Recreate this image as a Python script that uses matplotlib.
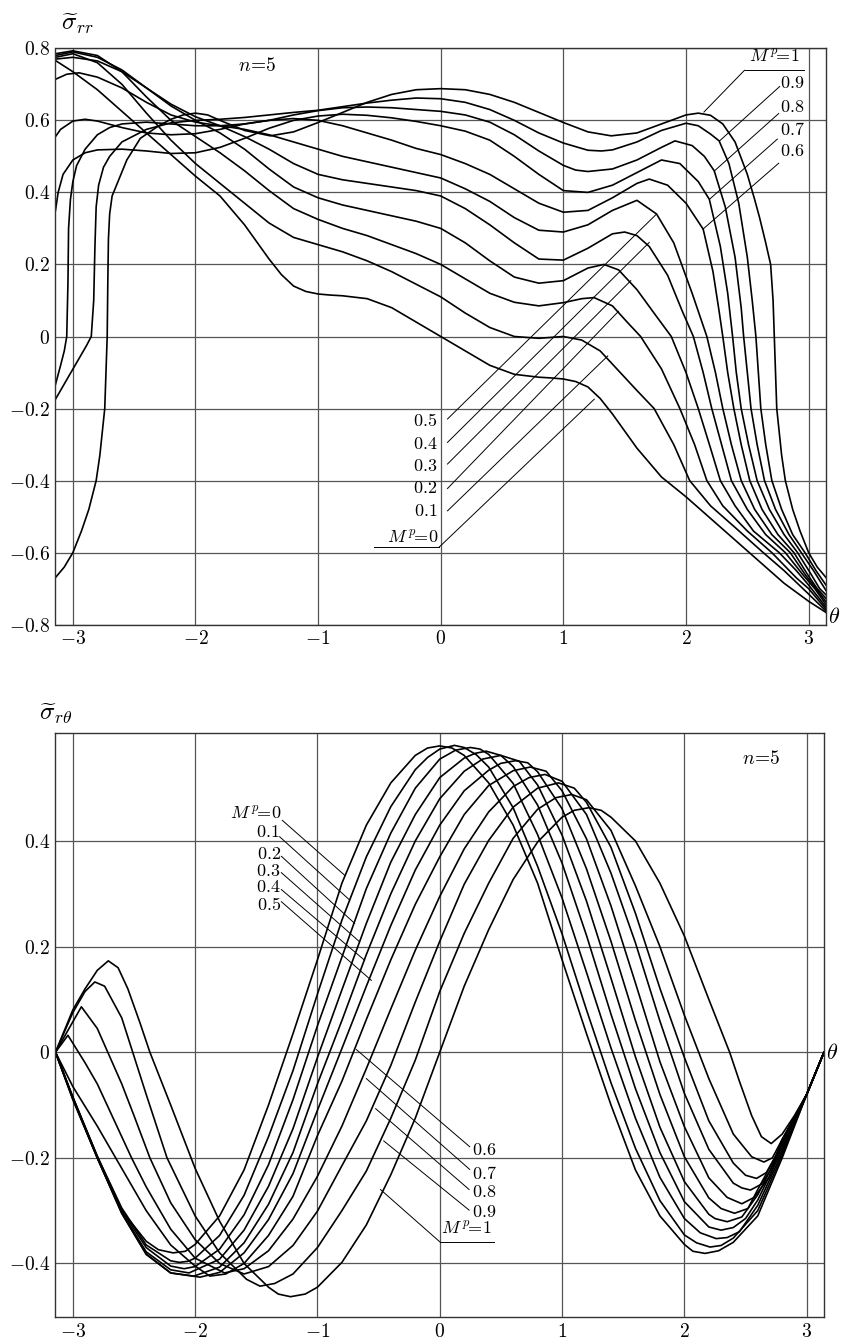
import matplotlib
matplotlib.use("Agg")
import matplotlib.pyplot as plt

plt.rcParams["mathtext.fontset"] = "cm"
plt.rcParams["font.family"] = "serif"
plt.rcParams["font.serif"] = ["cmr10", "DejaVu Serif"]
plt.rcParams["axes.unicode_minus"] = False

PI = 3.1416

# ---------------- data: sigma_rr (top), (theta, value) pairs
rr_m00 = [(-PI, .766), (-3.0, .735), (-2.8, .685), (-2.6, .625), (-2.4, .565), (-2.2, .505), (-2.0, .445),
          (-1.8, .39), (-1.6, .31), (-1.4, .215), (-1.3, .172), (-1.2, .14), (-1.1, .125), (-1.0, .118),
          (-0.9, .115), (-0.8, .113), (-0.6, .105), (-0.4, .08), (-0.2, .04), (0.0, 0.0), (0.2, -.04),
          (0.4, -.08), (0.6, -.105), (0.8, -.113), (0.9, -.115), (1.0, -.118), (1.1, -.125), (1.2, -.14),
          (1.3, -.172), (1.4, -.215), (1.6, -.31), (1.8, -.39), (2.0, -.445), (2.2, -.505), (2.4, -.565),
          (2.6, -.625), (2.8, -.685), (3.0, -.735), (PI, -.766)]
rr_m01 = [(-PI, .775), (-3.0, .785), (-2.8, .76), (-2.6, .70), (-2.4, .62), (-2.2, .545), (-2.0, .48),
          (-1.8, .425), (-1.6, .37), (-1.4, .315), (-1.2, .275), (-1.0, .255), (-0.8, .235), (-0.6, .21),
          (-0.4, .18), (-0.2, .145), (0.0, .11), (0.2, .065), (0.4, .025), (0.6, 0.0), (0.8, -.005),
          (1.0, 0.0), (1.15, -.01), (1.3, -.04), (1.45, -.095), (1.6, -.15), (1.74, -.2), (1.9, -.3),
          (2.03, -.4), (2.2, -.47), (2.4, -.53), (2.63, -.6), (2.8, -.65), (3.0, -.715), (PI, -.762)]
rr_m02 = [(-PI, .785), (-3.0, .793), (-2.8, .78), (-2.6, .735), (-2.4, .665), (-2.2, .60), (-2.0, .555),
          (-1.8, .51), (-1.6, .46), (-1.4, .405), (-1.2, .355), (-1.0, .325), (-0.8, .30), (-0.6, .28),
          (-0.4, .255), (-0.2, .23), (0.0, .20), (0.2, .16), (0.4, .12), (0.6, .095), (0.8, .085),
          (1.0, .094), (1.15, .105), (1.25, .108), (1.4, .085), (1.52, .04), (1.63, 0.0), (1.8, -.09),
          (1.95, -.2), (2.07, -.3), (2.17, -.4), (2.3, -.47), (2.5, -.54), (2.7, -.6), (2.9, -.67),
          (3.0, -.70), (PI, -.757)]
rr_m03 = [(-PI, .78), (-3.0, .79), (-2.8, .775), (-2.6, .74), (-2.4, .69), (-2.2, .64), (-2.0, .60),
          (-1.8, .565), (-1.6, .52), (-1.4, .465), (-1.2, .415), (-1.0, .385), (-0.8, .365), (-0.6, .35),
          (-0.4, .335), (-0.2, .32), (0.0, .30), (0.2, .26), (0.4, .21), (0.6, .165), (0.8, .148),
          (1.0, .155), (1.2, .19), (1.33, .2), (1.45, .185), (1.6, .13), (1.75, .06), (1.88, 0.0),
          (2.0, -.1), (2.1, -.2), (2.2, -.31), (2.28, -.4), (2.4, -.47), (2.55, -.54), (2.76, -.6),
          (2.9, -.65), (3.0, -.69), (PI, -.751)]
rr_m04 = [(-PI, .77), (-3.0, .775), (-2.8, .765), (-2.6, .735), (-2.4, .69), (-2.2, .645), (-2.0, .61),
          (-1.8, .585), (-1.6, .555), (-1.4, .52), (-1.2, .48), (-1.0, .45), (-0.8, .435), (-0.6, .425),
          (-0.4, .415), (-0.2, .405), (0.0, .39), (0.2, .355), (0.4, .31), (0.6, .26), (0.8, .215),
          (1.0, .212), (1.2, .245), (1.4, .285), (1.5, .29), (1.6, .28), (1.7, .25), (1.85, .17),
          (1.97, .07), (2.06, 0.0), (2.14, -.1), (2.21, -.2), (2.29, -.3), (2.37, -.4), (2.5, -.48),
          (2.65, -.55), (2.81, -.6), (2.95, -.66), (3.05, -.7), (PI, -.744)]
rr_m05 = [(-PI, .714), (-3.05, .728), (-2.95, .732), (-2.8, .72), (-2.6, .69), (-2.4, .65), (-2.2, .615),
          (-2.0, .595), (-1.8, .585), (-1.6, .575), (-1.4, .56), (-1.2, .54), (-1.0, .52), (-0.8, .50),
          (-0.6, .485), (-0.4, .47), (-0.2, .455), (0.0, .44), (0.2, .41), (0.4, .375), (0.6, .33),
          (0.8, .295), (1.0, .29), (1.2, .31), (1.4, .35), (1.6, .378), (1.76, .34), (1.9, .26),
          (2.05, .12), (2.17, 0.0), (2.24, -.1), (2.3, -.2), (2.37, -.3), (2.45, -.4), (2.56, -.48),
          (2.7, -.55), (2.85, -.6), (2.97, -.66), (3.06, -.7), (PI, -.736)]
rr_m06 = [(-PI, .555), (-3.1, .575), (-3.0, .598), (-2.9, .603), (-2.8, .598), (-2.6, .58), (-2.4, .565),
          (-2.2, .56), (-2.0, .563), (-1.8, .575), (-1.6, .59), (-1.4, .60), (-1.2, .605), (-1.0, .60),
          (-0.8, .585), (-0.6, .565), (-0.4, .545), (-0.2, .522), (0.0, .505), (0.2, .48), (0.4, .45),
          (0.6, .41), (0.8, .37), (1.0, .345), (1.2, .35), (1.4, .385), (1.6, .425), (1.7, .437),
          (1.85, .42), (2.0, .37), (2.14, .298), (2.22, .18), (2.27, .07), (2.3, 0.0), (2.34, -.1),
          (2.39, -.2), (2.45, -.3), (2.52, -.4), (2.62, -.48), (2.75, -.55), (2.88, -.6), (2.99, -.66),
          (3.07, -.7), (PI, -.727)]
rr_m07 = [(-PI, .35), (-3.12, .40), (-3.08, .45), (-3.0, .49), (-2.9, .51), (-2.8, .518), (-2.6, .52),
          (-2.4, .515), (-2.2, .508), (-2.0, .51), (-1.8, .525), (-1.6, .55), (-1.4, .578), (-1.2, .60),
          (-1.0, .612), (-0.8, .617), (-0.6, .614), (-0.4, .607), (-0.2, .597), (0.0, .585), (0.2, .57),
          (0.4, .545), (0.6, .50), (0.8, .45), (1.0, .405), (1.2, .40), (1.4, .42), (1.6, .455),
          (1.8, .49), (1.95, .48), (2.1, .43), (2.19, .381), (2.28, .25), (2.34, .12), (2.38, 0.0),
          (2.41, -.1), (2.45, -.2), (2.51, -.3), (2.58, -.4), (2.68, -.48), (2.8, -.55), (2.91, -.6),
          (3.02, -.66), (3.09, -.7), (PI, -.717)]
rr_m08 = [(-PI, -.133), (-3.1, -.08), (-3.07, -.04), (-3.05, 0.0), (-3.04, .15), (-3.035, .3), (-3.02, .38),
          (-3.0, .43), (-2.97, .474), (-2.9, .52), (-2.8, .56), (-2.7, .58), (-2.6, .59), (-2.4, .595),
          (-2.2, .59), (-2.0, .585), (-1.8, .585), (-1.6, .59), (-1.4, .60), (-1.2, .615), (-1.0, .627),
          (-0.8, .635), (-0.6, .637), (-0.4, .635), (-0.2, .63), (0.0, .625), (0.2, .615), (0.4, .595),
          (0.6, .56), (0.8, .515), (1.0, .475), (1.1, .462), (1.2, .458), (1.4, .465), (1.6, .49),
          (1.8, .525), (1.91, .543), (2.05, .53), (2.15, .5), (2.23, .46), (2.32, .36), (2.4, .22),
          (2.45, .08), (2.47, 0.0), (2.5, -.1), (2.53, -.2), (2.58, -.3), (2.64, -.4), (2.73, -.48),
          (2.84, -.55), (2.94, -.6), (3.04, -.65), (PI, -.705)]
rr_m09 = [(-PI, -.174), (-3.05, -.12), (-2.97, -.073), (-2.89, -.026), (-2.85, 0.0), (-2.83, .1),
          (-2.82, .25), (-2.81, .36), (-2.79, .42), (-2.75, .47), (-2.7, .50), (-2.6, .54), (-2.4, .575),
          (-2.2, .593), (-2.0, .60), (-1.8, .603), (-1.6, .608), (-1.4, .615), (-1.2, .622), (-1.0, .628),
          (-0.8, .638), (-0.6, .648), (-0.4, .656), (-0.2, .662), (0.0, .66), (0.2, .65), (0.4, .63),
          (0.6, .60), (0.8, .565), (1.0, .537), (1.2, .517), (1.31, .515), (1.4, .518), (1.6, .54),
          (1.8, .572), (2.0, .592), (2.1, .585), (2.2, .562), (2.27, .543), (2.35, .48), (2.43, .37),
          (2.5, .22), (2.54, .1), (2.57, 0.0), (2.59, -.1), (2.61, -.2), (2.65, -.3), (2.7, -.4),
          (2.78, -.48), (2.87, -.55), (2.97, -.6), (3.06, -.65), (PI, -.69)]
rr_m10 = [(-PI, -.669), (-3.07, -.64), (-3.0, -.6), (-2.93, -.54), (-2.87, -.48), (-2.81, -.4),
          (-2.78, -.33), (-2.74, -.2), (-2.73, -.1), (-2.72, 0.0), (-2.715, .15), (-2.71, .27), (-2.7, .34),
          (-2.68, .39), (-2.62, .44), (-2.56, .49), (-2.45, .55), (-2.3, .585), (-2.2, .603), (-2.1, .615),
          (-2.0, .62), (-1.9, .615), (-1.8, .60), (-1.6, .572), (-1.39, .557), (-1.2, .568), (-1.0, .594),
          (-0.8, .622), (-0.6, .65), (-0.4, .672), (-0.2, .685), (0.0, .688), (0.2, .685), (0.4, .672),
          (0.6, .65), (0.8, .622), (1.0, .594), (1.2, .568), (1.39, .557), (1.6, .565), (1.8, .59),
          (2.0, .615), (2.1, .62), (2.2, .614), (2.3, .59), (2.4, .54), (2.5, .45), (2.56, .38),
          (2.6, .33), (2.65, .26), (2.69, .2), (2.71, .1), (2.72, 0.0), (2.73, -.1), (2.74, -.2),
          (2.78, -.33), (2.81, -.4), (2.87, -.48), (2.93, -.54), (3.0, -.6), (3.07, -.64), (PI, -.669)]

# ---------------- data: sigma_r_theta (bottom)
rt_m00 = [(-PI, 0.0), (-3.0, -.085), (-2.8, -.197), (-2.6, -.30), (-2.4, -.358), (-2.3, -.374), (-2.18, -.38),
          (-2.08, -.377), (-2.0, -.364), (-1.8, -.31), (-1.6, -.223), (-1.4, -.10), (-1.2, .035), (-1.0, .175),
          (-0.8, .32), (-0.6, .43), (-0.4, .51), (-0.2, .562), (-0.1, .576), (0.0, .58), (0.1, .576),
          (0.2, .562), (0.4, .51), (0.6, .43), (0.8, .32), (1.0, .175), (1.2, .035), (1.4, -.10), (1.6, -.223),
          (1.8, -.31), (2.0, -.364), (2.07, -.377), (2.17, -.381), (2.28, -.376), (2.4, -.36), (2.6, -.31),
          (2.8, -.20), (3.0, -.08), (PI, 0.0)]
rt_m01 = [(-PI, 0.0), (-3.0, -.085), (-2.8, -.197), (-2.6, -.295), (-2.4, -.365), (-2.2, -.395), (-2.13, -.398),
          (-2.06, -.396), (-2.0, -.39), (-1.8, -.347), (-1.6, -.271), (-1.4, -.16), (-1.2, -.035), (-1.0, .11),
          (-0.8, .25), (-0.6, .37), (-0.4, .465), (-0.2, .535), (-0.1, .558), (0.0, .574), (0.12, .581),
          (0.2, .577), (0.3, .563), (0.4, .54), (0.6, .463), (0.8, .352), (1.0, .224), (1.2, .08), (1.4, -.058),
          (1.6, -.182), (1.8, -.281), (2.0, -.346), (2.1, -.361), (2.21, -.369), (2.3, -.366), (2.4, -.352),
          (2.6, -.30), (2.8, -.195), (3.0, -.08), (PI, 0.0)]
rt_m02 = [(-PI, 0.0), (-3.0, -.086), (-2.8, -.199), (-2.6, -.30), (-2.4, -.37), (-2.2, -.405), (-2.09, -.41),
          (-2.0, -.406), (-1.8, -.373), (-1.6, -.308), (-1.4, -.213), (-1.2, -.09), (-1.0, .05), (-0.8, .18),
          (-0.6, .31), (-0.4, .415), (-0.2, .50), (0.0, .555), (0.13, .572), (0.25, .577), (0.33, .574),
          (0.4, .564), (0.6, .509), (0.8, .412), (1.0, .292), (1.2, .151), (1.4, .008), (1.6, -.125),
          (1.8, -.237), (2.0, -.315), (2.13, -.342), (2.26, -.353), (2.35, -.351), (2.45, -.34), (2.6, -.29),
          (2.8, -.19), (3.0, -.08), (PI, 0.0)]
rt_m03 = [(-PI, 0.0), (-3.0, -.087), (-2.8, -.20), (-2.6, -.303), (-2.4, -.378), (-2.2, -.412), (-2.05, -.418),
          (-1.8, -.392), (-1.6, -.337), (-1.4, -.254), (-1.2, -.145), (-1.0, -.01), (-0.8, .118), (-0.6, .244),
          (-0.4, .36), (-0.2, .45), (0.0, .52), (0.2, .557), (0.29, .566), (0.38, .57), (0.5, .562),
          (0.6, .541), (0.8, .468), (1.0, .358), (1.2, .221), (1.4, .072), (1.6, -.069), (1.8, -.19),
          (2.0, -.283), (2.2, -.331), (2.3, -.337), (2.4, -.332), (2.5, -.315), (2.6, -.28), (2.8, -.185),
          (3.0, -.08), (PI, 0.0)]
rt_m04 = [(-PI, 0.0), (-3.0, -.088), (-2.8, -.20), (-2.6, -.305), (-2.4, -.382), (-2.2, -.418), (-2.01, -.424),
          (-1.8, -.407), (-1.6, -.361), (-1.4, -.288), (-1.2, -.19), (-1.0, -.06), (-0.8, .06), (-0.6, .185),
          (-0.4, .30), (-0.2, .40), (0.0, .48), (0.2, .532), (0.35, .555), (0.5, .562), (0.65, .551),
          (0.8, .506), (1.0, .411), (1.2, .286), (1.4, .14), (1.6, -.009), (1.8, -.142), (2.0, -.245),
          (2.2, -.307), (2.25, -.315), (2.35, -.321), (2.47, -.312), (2.6, -.27), (2.8, -.18), (3.0, -.08),
          (PI, 0.0)]
rt_m05 = [(-PI, 0.0), (-3.0, -.09), (-2.8, -.20), (-2.6, -.305), (-2.4, -.383), (-2.2, -.418), (-1.96, -.426),
          (-1.8, -.417), (-1.6, -.38), (-1.4, -.317), (-1.2, -.23), (-1.0, -.11), (-0.8, .007), (-0.6, .125),
          (-0.4, .24), (-0.2, .345), (0.0, .43), (0.2, .495), (0.4, .534), (0.5, .547), (0.62, .552),
          (0.72, .548), (0.8, .531), (1.0, .461), (1.2, .347), (1.4, .21), (1.6, .06), (1.8, -.08),
          (2.0, -.198), (2.2, -.276), (2.3, -.296), (2.41, -.305), (2.52, -.296), (2.6, -.26), (2.8, -.175),
          (3.0, -.08), (PI, 0.0)]
rt_m06 = [(-PI, 0.0), (-3.0, -.065), (-2.8, -.14), (-2.65, -.2), (-2.4, -.30), (-2.2, -.365), (-2.0, -.405),
          (-1.88, -.424), (-1.75, -.42), (-1.6, -.40), (-1.4, -.347), (-1.2, -.273), (-1.0, -.158),
          (-0.8, -.055), (-0.6, .062), (-0.4, .175), (-0.2, .28), (0.0, .37), (0.2, .45), (0.4, .505),
          (0.6, .533), (0.74, .54), (0.87, .532), (1.0, .495), (1.2, .404), (1.4, .277), (1.6, .131),
          (1.8, -.018), (2.0, -.141), (2.2, -.238), (2.35, -.275), (2.47, -.287), (2.57, -.275), (2.7, -.235),
          (2.8, -.17), (3.0, -.08), (PI, 0.0)]
rt_m07 = [(-PI, 0.0), (-3.04, .032), (-2.9, -.02), (-2.8, -.06), (-2.6, -.16), (-2.52, -.2), (-2.4, -.255),
          (-2.2, -.335), (-2.0, -.39), (-1.76, -.418), (-1.6, -.41), (-1.4, -.376), (-1.2, -.316), (-1.0, -.235),
          (-0.8, -.14), (-0.6, -.031), (-0.4, .082), (-0.2, .193), (0.0, .295), (0.2, .385), (0.4, .455),
          (0.6, .503), (0.73, .52), (0.86, .526), (1.0, .513), (1.2, .45), (1.4, .339), (1.6, .207),
          (1.8, .059), (2.0, -.078), (2.2, -.184), (2.4, -.248), (2.47, -.257), (2.54, -.261), (2.63, -.25),
          (2.7, -.225), (2.8, -.165), (3.0, -.08), (PI, 0.0)]
rt_m08 = [(-PI, 0.0), (-2.93, .086), (-2.8, .045), (-2.6, -.06), (-2.5, -.12), (-2.37, -.2), (-2.2, -.285),
          (-2.0, -.355), (-1.8, -.40), (-1.6, -.42), (-1.4, -.406), (-1.2, -.366), (-1.0, -.301), (-0.8, -.215),
          (-0.6, -.13), (-0.4, -.025), (-0.2, .095), (0.0, .21), (0.2, .318), (0.4, .401), (0.6, .464),
          (0.8, .50), (0.97, .51), (1.1, .5), (1.2, .473), (1.4, .388), (1.6, .263), (1.8, .121), (2.0, -.01),
          (2.2, -.13), (2.4, -.21), (2.5, -.233), (2.59, -.239), (2.67, -.228), (2.75, -.195), (2.85, -.145),
          (3.0, -.08), (PI, 0.0)]
rt_m09 = [(-PI, 0.0), (-3.0, .075), (-2.9, .115), (-2.82, .133), (-2.74, .125), (-2.6, .065), (-2.4, -.08),
          (-2.23, -.2), (-2.0, -.31), (-1.8, -.38), (-1.58, -.43), (-1.47, -.443), (-1.35, -.438), (-1.2, -.42),
          (-1.0, -.37), (-0.8, -.30), (-0.6, -.225), (-0.4, -.125), (-0.2, -.015), (0.0, .115), (0.2, .225),
          (0.4, .32), (0.6, .405), (0.8, .46), (0.95, .482), (1.08, .488), (1.2, .478), (1.4, .42),
          (1.6, .315), (1.8, .20), (2.0, .07), (2.2, -.05), (2.4, -.155), (2.55, -.198), (2.65, -.208),
          (2.72, -.2), (2.8, -.165), (2.9, -.125), (3.0, -.08), (PI, 0.0)]
rt_m10 = [(-PI, 0.0), (-3.0, .08), (-2.9, .12), (-2.8, .155), (-2.71, .173), (-2.63, .16), (-2.55, .12),
          (-2.45, .055), (-2.37, 0.0), (-2.2, -.10), (-2.0, -.22), (-1.8, -.32), (-1.6, -.40), (-1.4, -.445),
          (-1.32, -.458), (-1.22, -.463), (-1.1, -.458), (-1.0, -.445), (-0.8, -.398), (-0.6, -.327),
          (-0.4, -.232), (-0.2, -.125), (0.0, 0.0), (0.2, .125), (0.4, .232), (0.6, .327), (0.8, .398),
          (1.0, .445), (1.1, .458), (1.22, .463), (1.32, .458), (1.4, .445), (1.6, .40), (1.8, .32),
          (2.0, .22), (2.2, .10), (2.37, 0.0), (2.45, -.055), (2.55, -.12), (2.63, -.16), (2.71, -.173),
          (2.8, -.155), (2.9, -.12), (3.0, -.08), (PI, 0.0)]

rr_curves = [rr_m00, rr_m01, rr_m02, rr_m03, rr_m04, rr_m05, rr_m06, rr_m07, rr_m08, rr_m09, rr_m10]
rt_curves = [rt_m00, rt_m01, rt_m02, rt_m03, rt_m04, rt_m05, rt_m06, rt_m07, rt_m08, rt_m09, rt_m10]

x_ticks = [-3, -2, -1, 0, 1, 2, 3]
x_labels = ["$-3$", "$-2$", "$-1$", "$0$", "$1$", "$2$", "$3$"]
rr_yticks = [-0.8, -0.6, -0.4, -0.2, 0, 0.2, 0.4, 0.6, 0.8]
rr_ylabels = ["$-0.8$", "$-0.6$", "$-0.4$", "$-0.2$", "$0$", "$0.2$", "$0.4$", "$0.6$", "$0.8$"]
rt_yticks = [-0.4, -0.2, 0, 0.2, 0.4]
rt_ylabels = ["$-0.4$", "$-0.2$", "$0$", "$0.2$", "$0.4$"]

W, H = 841, 1339
fig = plt.figure(figsize=(W / 100, H / 100), dpi=100)
ax1 = fig.add_axes([55.5 / W, 1 - 624.7 / H, (826 - 55.5) / W, (624.7 - 48.3) / H])
ax2 = fig.add_axes([55.5 / W, 1 - 1317.3 / H, (824 - 55.5) / W, (1317.3 - 732.7) / H])


def style(ax, yticks, ylabels, ylim):
    ax.set_xlim(-PI, PI)
    ax.set_ylim(*ylim)
    ax.set_xticks(x_ticks, x_labels)
    ax.set_yticks(yticks, ylabels)
    ax.tick_params(length=0, labelsize=14, pad=4)
    ax.grid(True, color="#555555", lw=0.9)
    ax.set_axisbelow(True)
    for s in ax.spines.values():
        s.set_color("#333333")
        s.set_linewidth(1.0)


def draw(ax, curves):
    for c in curves:
        ax.plot([p[0] for p in c], [p[1] for p in c], color="black", lw=1.2,
                solid_joinstyle="round")


def tag(ax, txt, txy, ha, start, end, under=None):
    ax.text(txy[0], txy[1], txt, ha=ha, va="center", fontsize=13)
    ax.plot([start[0], end[0]], [start[1], end[1]], color="black", lw=0.7)
    if under is not None:
        ax.plot(under[0], under[1], color="black", lw=0.7)


style(ax1, rr_yticks, rr_ylabels, (-0.8, 0.8))
style(ax2, rt_yticks, rt_ylabels, (-0.502, 0.605))
draw(ax1, rr_curves)
draw(ax2, rt_curves)

# top panel labels
tag(ax1, r"$M^{\,p}\!\!=\!1$", (2.72, 0.775), "center", (2.477, 0.739), (2.146, 0.623),
    under=([2.477, 2.966], [0.739, 0.739]))
tag(ax1, "$0.9$", (2.77, 0.703), "left", (2.764, 0.694), (2.274, 0.543))
tag(ax1, "$0.8$", (2.77, 0.636), "left", (2.756, 0.619), (2.233, 0.46))
tag(ax1, "$0.7$", (2.77, 0.575), "left", (2.745, 0.548), (2.192, 0.381))
tag(ax1, "$0.6$", (2.77, 0.515), "left", (2.756, 0.481), (2.138, 0.298))
tag(ax1, "$0.5$", (-0.03, -0.234), "right", (0.055, -0.229), (1.757, 0.339))
tag(ax1, "$0.4$", (-0.03, -0.299), "right", (0.055, -0.294), (1.70, 0.261))
tag(ax1, "$0.3$", (-0.03, -0.359), "right", (0.055, -0.354), (1.55, 0.155))
tag(ax1, "$0.2$", (-0.03, -0.421), "right", (0.055, -0.422), (1.45, 0.07))
tag(ax1, "$0.1$", (-0.03, -0.484), "right", (0.055, -0.484), (1.362, -0.054))
tag(ax1, r"$M^{\,p}\!\!=\!0$", (-0.02, -0.56), "right", (-0.014, -0.585), (1.252, -0.174),
    under=([-0.547, -0.014], [-0.585, -0.585]))
ax1.text(-1.495, 0.75, r"$n\!=\!5$", ha="center", va="center", fontsize=14)

# bottom panel labels
tag(ax2, r"$M^{\,p}\!\!=\!0$", (-1.29, 0.451), "right", (-1.287, 0.439), (-0.777, 0.335))
tag(ax2, "$0.1$", (-1.31, 0.417), "right", (-1.309, 0.408), (-0.736, 0.288))
tag(ax2, "$0.2$", (-1.30, 0.376), "right", (-1.295, 0.371), (-0.696, 0.244))
tag(ax2, "$0.3$", (-1.30, 0.343), "right", (-1.295, 0.34), (-0.655, 0.209))
tag(ax2, "$0.4$", (-1.30, 0.312), "right", (-1.295, 0.308), (-0.614, 0.174))
tag(ax2, "$0.5$", (-1.30, 0.28), "right", (-1.295, 0.285), (-0.559, 0.136))
tag(ax2, "$0.6$", (0.26, -0.186), "left", (0.245, -0.179), (-0.682, 0.005))
tag(ax2, "$0.7$", (0.26, -0.229), "left", (0.245, -0.222), (-0.60, -0.05))
tag(ax2, "$0.8$", (0.26, -0.264), "left", (0.24, -0.26), (-0.524, -0.107))
tag(ax2, "$0.9$", (0.26, -0.302), "left", (0.24, -0.299), (-0.458, -0.168))
tag(ax2, r"$M^{\,p}\!\!=\!1$", (0.22, -0.335), "center", (0.0, -0.359), (-0.485, -0.26),
    under=([0.0, 0.442], [-0.359, -0.359]))
ax2.text(2.633, 0.556, r"$n\!=\!5$", ha="center", va="center", fontsize=14)

fig.text(77 / W, 1 - 24 / H, r"$\widetilde{\sigma}_{rr}$", ha="center", va="center", fontsize=18)
fig.text(56 / W, 1 - 714 / H, r"$\widetilde{\sigma}_{r\theta}$", ha="center", va="center", fontsize=18)
fig.text(834 / W, 1 - 617 / H, r"$\theta$", ha="center", va="center", fontsize=16)
fig.text(832 / W, 1 - 1053 / H, r"$\theta$", ha="center", va="center", fontsize=16)

fig.savefig("out.png", dpi=100)
